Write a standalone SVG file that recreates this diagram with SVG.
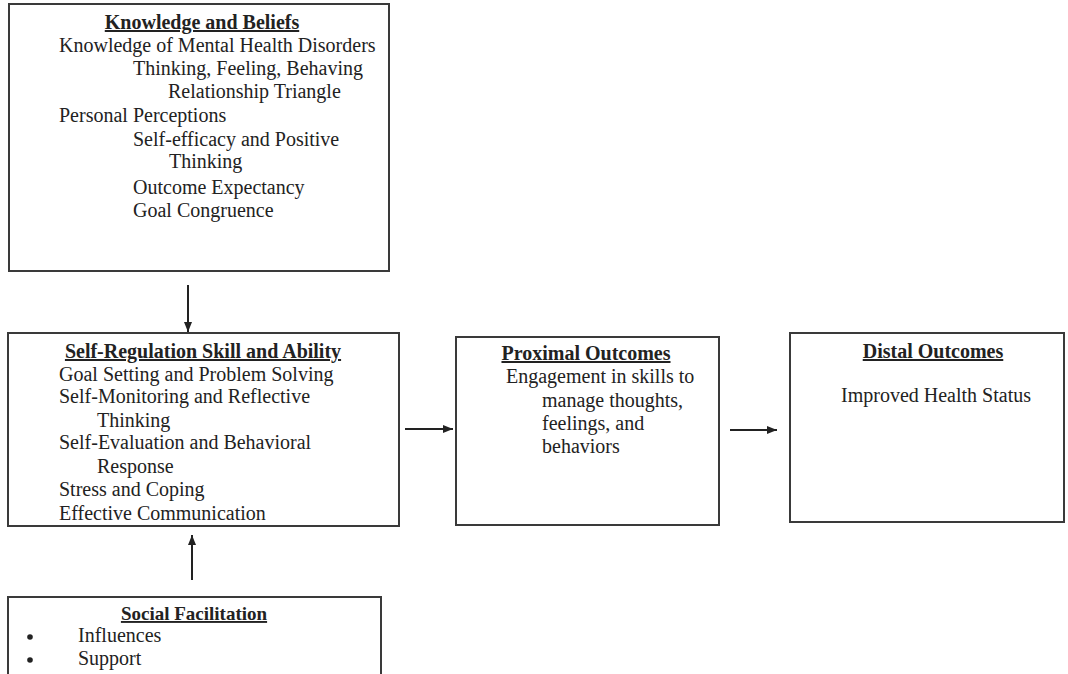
<svg xmlns="http://www.w3.org/2000/svg" width="1068" height="674" viewBox="0 0 1068 674">
<defs>
<style>
.box{fill:#fff;stroke:#3a3a3a;stroke-width:2}
.t{font-family:"Liberation Serif","Times New Roman",serif;font-size:20px;fill:#222}
.h{font-family:"Liberation Serif","Times New Roman",serif;font-size:20px;font-weight:bold;fill:#222;text-decoration:underline;text-anchor:middle}
.c{stroke:#222;stroke-width:2;fill:none;marker-end:url(#ah)}
</style>
<marker id="ah" viewBox="0 0 10 8" refX="10" refY="4" markerWidth="10" markerHeight="8" markerUnits="userSpaceOnUse" orient="auto">
<path d="M0,0 L10,4 L0,8 Z" fill="#222"/>
</marker>
</defs>
<rect width="1068" height="674" fill="#fff"/>
<g id="connectors">
<line class="c" x1="188" y1="285" x2="188" y2="332"/>
<line class="c" x1="192" y1="580" x2="192" y2="535"/>
<line class="c" x1="405" y1="429" x2="453" y2="429"/>
<line class="c" x1="730" y1="430" x2="777" y2="430"/>
</g>
<g id="knowledge">
<rect class="box" x="9" y="4" width="380" height="267"/>
<text class="h" x="202" y="29">Knowledge and Beliefs</text>
<text class="t" x="59" y="52">Knowledge of Mental Health Disorders</text>
<text class="t" x="133" y="75">Thinking, Feeling, Behaving</text>
<text class="t" x="168" y="98">Relationship Triangle</text>
<text class="t" x="59" y="122">Personal Perceptions</text>
<text class="t" x="133" y="146">Self-efficacy and Positive</text>
<text class="t" x="169" y="168">Thinking</text>
<text class="t" x="133" y="194">Outcome Expectancy</text>
<text class="t" x="133" y="217">Goal Congruence</text>
</g>
<g id="selfregulation">
<rect class="box" x="8" y="333" width="391" height="193"/>
<text class="h" x="203" y="358">Self-Regulation Skill and Ability</text>
<text class="t" x="59" y="381">Goal Setting and Problem Solving</text>
<text class="t" x="59" y="403">Self-Monitoring and Reflective</text>
<text class="t" x="97" y="427">Thinking</text>
<text class="t" x="59" y="449">Self-Evaluation and Behavioral</text>
<text class="t" x="97" y="473">Response</text>
<text class="t" x="59" y="496">Stress and Coping</text>
<text class="t" x="59" y="520">Effective Communication</text>
</g>
<g id="proximal">
<rect class="box" x="456" y="337" width="263" height="188"/>
<text class="h" x="586" y="360">Proximal Outcomes</text>
<text class="t" x="506" y="383">Engagement in skills to</text>
<text class="t" x="542" y="407">manage thoughts,</text>
<text class="t" x="542" y="430">feelings, and</text>
<text class="t" x="542" y="453">behaviors</text>
</g>
<g id="distal">
<rect class="box" x="790" y="333" width="274" height="189"/>
<text class="h" x="933" y="358">Distal Outcomes</text>
<text class="t" x="936" y="402" text-anchor="middle">Improved Health Status</text>
</g>
<g id="social">
<rect class="box" x="8" y="597" width="373" height="100"/>
<text class="h" x="194" y="620" style="font-size:19px">Social Facilitation</text>
<circle cx="30" cy="637" r="2.8" fill="#222"/>
<circle cx="30" cy="660" r="2.8" fill="#222"/>
<text class="t" x="78" y="642">Influences</text>
<text class="t" x="78" y="665">Support</text>
</g>
</svg>
